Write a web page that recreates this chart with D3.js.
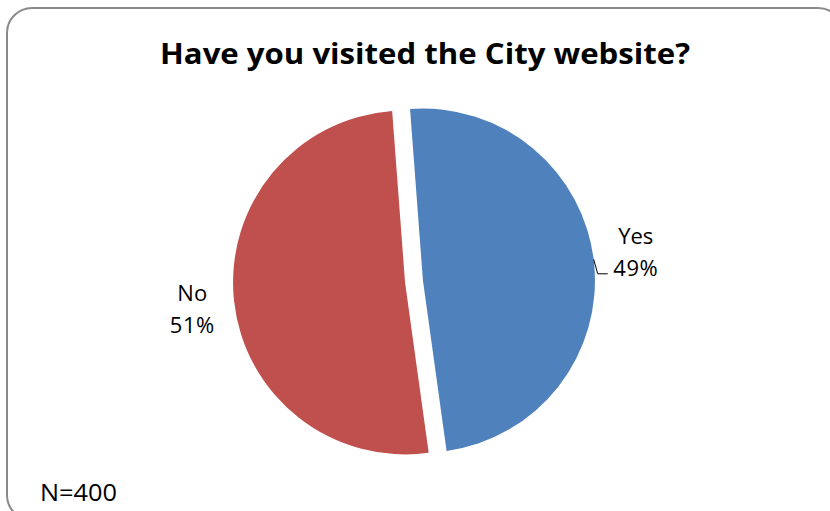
<!DOCTYPE html>
<html lang="en">
<head>
<meta charset="UTF-8">
<title>Have you visited the City website?</title>
<script src="https://d3js.org/d3.v7.min.js"></script>
<style>
body { margin: 0; background: #fff; }
text { font-family: 'Open Sans', sans-serif; fill: #000; }
</style>
</head>
<body>
<script>
// data
const answers = ["Yes", "No"];
const shares = [49, 51];
const sliceColors = ["#4F81BD", "#C0504D"];
const chartTitle = "Have you visited the City website?";
const sampleNote = "N=400";

const width = 830, height = 511;
const svg = d3.select("body").append("svg")
    .attr("width", width)
    .attr("height", height);

// outer frame, runs off the right/bottom like the screenshot
svg.append("rect")
    .attr("x", 7).attr("y", 8)
    .attr("width", 836).attr("height", 512)
    .attr("rx", 25).attr("ry", 25)
    .attr("fill", "#fff")
    .attr("stroke", "#8a8a8a")
    .attr("stroke-width", 2);

svg.append("text")
    .attr("x", 425).attr("y", 64)
    .attr("text-anchor", "middle")
    .attr("font-size", 29)
    .attr("font-weight", "bold")
    .attr("textLength", 530)
    .attr("lengthAdjust", "spacingAndGlyphs")
    .text(chartTitle);

svg.append("text")
    .attr("x", 40).attr("y", 501)
    .attr("font-size", 23)
    .attr("textLength", 77)
    .attr("lengthAdjust", "spacingAndGlyphs")
    .text(sampleNote);

// pie
const cx = 414, cy = 281.5, r = 172, explode = 9;
const start = -4.3 * Math.PI / 180;
const pie = d3.pie().sort(null)
    .startAngle(start)
    .endAngle(start + 2 * Math.PI);
const arc = d3.arc().innerRadius(0).outerRadius(r);

const slices = pie(shares).map((d, i) => {
    const mid = (d.startAngle + d.endAngle) / 2;
    return Object.assign(d, {
        i, mid,
        ox: Math.sin(mid) * explode,
        oy: -Math.cos(mid) * explode
    });
});

const g = svg.append("g").attr("transform", `translate(${cx},${cy})`);

g.selectAll("path.slice")
    .data(slices)
    .enter().append("path")
    .attr("class", "slice")
    .attr("transform", d => `translate(${d.ox},${d.oy})`)
    .attr("d", arc)
    .attr("fill", d => sliceColors[d.i]);

// labels
const labelR = 223;
const lab = g.selectAll("g.lab")
    .data(slices)
    .enter().append("g")
    .attr("class", "lab")
    .attr("transform", d => {
        const x = Math.sin(d.mid) * labelR;
        let y = -Math.cos(d.mid) * labelR;
        if (x < 0) y += 10;
        return `translate(${x},${y})`;
    });

lab.append("text")
    .attr("text-anchor", "middle")
    .attr("y", -14)
    .attr("font-size", 22)
    .text(d => answers[d.i]);

lab.append("text")
    .attr("text-anchor", "middle")
    .attr("y", 18)
    .attr("font-size", 22)
    .attr("letter-spacing", 0.5)
    .text(d => shares[d.i] + "%");

// leader line for the Yes label
const yes = slices[0];
const a = yes.mid - 1 * Math.PI / 180;
const p0 = [yes.ox + Math.sin(a) * r, yes.oy - Math.cos(a) * r];
const lx = Math.sin(yes.mid) * labelR, ly = -Math.cos(yes.mid) * labelR;
const pts = [p0, [lx - 38, ly + 16], [lx - 28, ly + 16]];
g.append("path")
    .attr("d", d3.line()(pts))
    .attr("fill", "none")
    .attr("stroke", "#000")
    .attr("stroke-width", 1);
</script>
</body>
</html>
